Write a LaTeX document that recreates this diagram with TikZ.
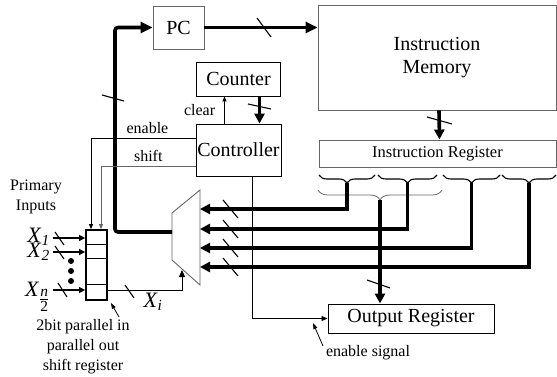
\documentclass[tikz,border=0pt]{standalone}
\usepackage{amsmath}
\usepackage{fontspec}
\setmainfont{Liberation Serif}
\usetikzlibrary{arrows.meta,decorations.pathreplacing}

\definecolor{boxgray}{gray}{0.4}

\begin{document}
\begin{tikzpicture}[x=1pt, y=-1pt,
    block/.style={rectangle, draw, line width=0.9pt, inner sep=0pt, font=\fontsize{20}{23}\selectfont, align=center},
    graybox/.style={block, draw=boxgray},
    bus/.style={line width=3.6pt, -{Triangle[length=10pt,width=10pt]}},
    inbus/.style={line width=2pt, -{Triangle[length=6pt,width=6pt]}},
    wire/.style={line width=0.8pt, -{Triangle[length=6pt,width=5pt]}},
    slash/.style={line width=1.1pt},
    brc/.style={decorate, decoration={brace, mirror, amplitude=8pt}, line width=1.1pt},
    lbl/.style={font=\fontsize{16}{20}\selectfont, inner sep=1pt, align=center},
    xlbl/.style={font=\fontsize{22}{24}\selectfont, inner sep=0pt, anchor=base east}
]
\useasboundingbox (0,0) rectangle (557,377);

% Blocks
\node[graybox, minimum width=51pt, minimum height=43pt] (pc) at (178.5,27.5) {PC};
\node[graybox, minimum width=238pt, minimum height=105pt] (im) at (437,57.5) {Instruction\\Memory};
\node[graybox, minimum width=237pt, minimum height=27pt, font=\fontsize{16.5}{18}\selectfont] (ir) at (437.5,153.5) {Instruction Register};
\node[block, minimum width=84pt, minimum height=34pt] (counter) at (238.5,79) {Counter};
\node[block, minimum width=85pt, minimum height=52pt] (controller) at (238.5,150) {Controller};
\node[block, minimum width=166pt, minimum height=29pt] (outreg) at (411,318.5) {Output Register};

% Shift register
\node[rectangle, draw, line width=1.8pt, minimum width=21pt, minimum height=70pt, inner sep=0pt] (sreg) at (96.5,265) {};
\foreach \d in {15,29,55}
  \draw[line width=0.8pt] ([yshift=-\d pt]sreg.north west) -- ([yshift=-\d pt]sreg.north east);

% Multiplexer
\draw[boxgray, line width=0.9pt] (172,213) -- (200,190) -- (200,285) -- (172,260) -- cycle;
\coordinate (mux in1) at (200,209);
\coordinate (mux in2) at (200,229);
\coordinate (mux in3) at (200,248);
\coordinate (mux in4) at (200,267);
\coordinate (mux out) at (172,232);
\coordinate (mux sel) at (182,270);

% Fields of the instruction register
\draw[brc] (319,175) -- (375,175);
\draw[brc] (378,175) -- (437,175);
\draw[brc] (443,175) -- (500,175);
\draw[brc] (502,175) -- (556,175);
\draw[brc, boxgray, line width=0.8pt, decoration={amplitude=10pt}] (318,190) -- (442,190);
\coordinate (f1) at (347,183);
\coordinate (f2) at (407.5,183);
\coordinate (f3) at (471.5,183);
\coordinate (f4) at (529,183);
\coordinate (fo) at (380,200);

% Buses
\draw[bus, -{Triangle[length=12pt,width=11pt]}] (pc.east) -- (pc.east -| im.west);
\coordinate (fb) at (115,27.5);
\draw[bus, rounded corners=3pt, -{Triangle[length=12pt,width=11pt]}] (mux out) -| (fb) -- (pc.west);
\draw[bus] ([xshift=2pt]im.south) -- ([xshift=2pt]ir.north);
\draw[bus] ([xshift=21pt]counter.south) -- ([xshift=21pt]controller.north);
\draw[bus] (f1) |- (mux in1);
\draw[bus] (f2) |- (mux in2);
\draw[bus] (f3) |- (mux in3);
\draw[bus] (f4) |- (mux in4);
\draw[bus] (fo) -- (fo |- outreg.north);

% Control signals
\draw[wire, -{Triangle[length=5pt,width=4pt]}] ([xshift=-14pt]controller.north) -- ([xshift=-14pt]counter.south)
  node[lbl, midway, left=8pt] (clr) {clear};
\draw[wire, -{Triangle[length=5pt,width=4pt]}] ([yshift=12pt]controller.west) -| ([xshift=-5.5pt]sreg.north)
  node[lbl, pos=0.23, above=3pt] (en) {enable};
\draw[wire, boxgray, -{Triangle[length=5pt,width=4pt]}] ([yshift=-16pt]controller.west) -| ([xshift=4.5pt]sreg.north)
  node[lbl, black, pos=0.25, above=3pt] (sh) {shift};
\draw[wire] ([xshift=13.5pt]controller.south) |- (outreg.west);

% Primary inputs
\node[lbl] (pin) at (36,197) {Primary\\Inputs};
\node[xlbl] (x1) at (50,242) {\textit{X}$_{\textit{1}}$};
\node[xlbl] (x2) at (50,257) {\textit{X}$_{\textit{2}}$};
\node[xlbl] (xn) at (50,296) {\textit{X}$_{\genfrac{}{}{0.6pt}{1}{\textit{n}}{\text{2}}}$};
\draw[inbus] ([xshift=3pt,yshift=4pt]x1.base east) -- ([yshift=4pt]x1.base east -| sreg.west);
\draw[inbus] ([xshift=3pt,yshift=5pt]x2.base east) -- ([yshift=5pt]x2.base east -| sreg.west);
\draw[inbus] ([xshift=3pt,yshift=6pt]xn.base east) -- ([yshift=6pt]xn.base east -| sreg.west);
\foreach \y in {261,271,281}
  \fill (71,\y) circle (3pt);

% Selected input
\draw[wire, line width=1pt, -{Triangle[length=7pt,width=6pt]}] ([yshift=-25pt]sreg.east) -| (mux sel);
\node[xlbl, anchor=center] (xi) at (153,302) {\textit{X}$_{\textit{i}}$};

% Bus width marks
\draw[slash] (257,18) -- (271,37);
\draw[slash] (102,95) -- (124,101);
\draw[slash] (248,104) -- (271,109);
\draw[slash] (427,117) -- (452,124);
\foreach \y in {209,229,248,267}
  \draw[slash] (223,\y-9) -- (238,\y+9);
\draw[slash] (367,280) -- (390,288);
\draw[slash] (125,285) -- (134,298);
\draw[slash] (55,232) -- (64,245);
\draw[slash] (55,246) -- (64,259);
\draw[slash] (58,283) -- (67,297);

% Notes
\node[lbl] (note) at (83,347) {2bit parallel in\\parallel out\\shift register};
\coordinate (note tip) at (119,317);
\draw[wire, -{Triangle[length=6pt,width=4pt]}] (note tip) -- ([xshift=3pt,yshift=-2pt]sreg.south east);
\node[lbl] (ens) at (368,353) {enable signal};
\coordinate (ens tip) at (323,346);
\draw[wire, -{Triangle[length=6pt,width=4pt]}] (ens tip) -- (313,323);
\end{tikzpicture}
\end{document}
